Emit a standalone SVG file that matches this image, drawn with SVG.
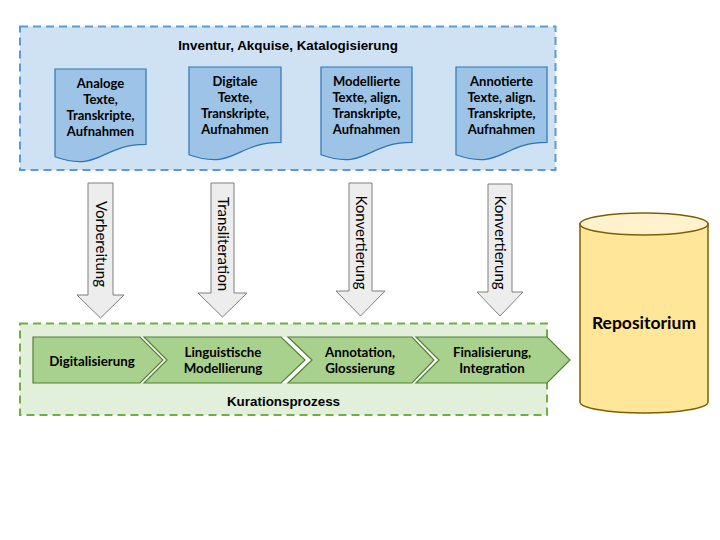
<svg xmlns="http://www.w3.org/2000/svg" width="720" height="540" viewBox="0 0 720 540">
<style>
.doc{fill:#9DC3E6;stroke:#2E75B6;stroke-width:1.2}
.dt{font-family:Lato,"Open Sans",sans-serif;font-weight:bold;font-size:13px;fill:#000;text-anchor:middle}
.arr{fill:#EDEDED;stroke:#7F7F7F;stroke-width:1}
.at{font-family:Lato,"Open Sans",sans-serif;font-size:15px;fill:#000;text-anchor:middle}
.chev{fill:#A9D18E;stroke:#538135;stroke-width:1.2}
.gap{fill:#FFFFFF;stroke:none}
.ct{font-family:Lato,"Open Sans",sans-serif;font-weight:bold;font-size:13.3px;fill:#000;text-anchor:middle}
.title{font-family:"Liberation Sans",Arial,sans-serif;font-weight:bold;font-size:13.4px;fill:#000;text-anchor:middle}
</style>
<rect width="720" height="540" fill="#FFFFFF"/>
<g id="inventur">
<rect x="20" y="26.5" width="535.5" height="143.5" fill="#CFE2F3" stroke="#5B9BD5" stroke-width="2" stroke-dasharray="8,5"/>
<text class="title" x="288" y="50">Inventur, Akquise, Katalogisierung</text>
</g>
<g id="doc1">
<path class="doc" d="M55,69 H146 V144.4 C100.5,144.4 100.5,172.8 55,156.8 Z"/>
<text class="dt" x="100.5" y="87.5">Analoge</text>
<text class="dt" x="100.5" y="104">Texte,</text>
<text class="dt" x="100.5" y="120">Transkripte,</text>
<text class="dt" x="100.5" y="136">Aufnahmen</text>
</g>
<g id="doc2">
<path class="doc" d="M189,67 H281 V142.4 C235,142.4 235,170.8 189,154.8 Z"/>
<text class="dt" x="235" y="86">Digitale</text>
<text class="dt" x="235" y="102">Texte,</text>
<text class="dt" x="235" y="118">Transkripte,</text>
<text class="dt" x="235" y="133.5">Aufnahmen</text>
</g>
<g id="doc3">
<path class="doc" d="M321,67 H412 V142.4 C366.5,142.4 366.5,170.8 321,154.8 Z"/>
<text class="dt" x="366.5" y="86">Modellierte</text>
<text class="dt" x="366.5" y="102">Texte, align.</text>
<text class="dt" x="366.5" y="118">Transkripte,</text>
<text class="dt" x="366.5" y="133.5">Aufnahmen</text>
</g>
<g id="doc4">
<path class="doc" d="M456,67 H547 V142.4 C501.5,142.4 501.5,170.8 456,154.8 Z"/>
<text class="dt" x="501.5" y="86">Annotierte</text>
<text class="dt" x="501.5" y="102">Texte, align.</text>
<text class="dt" x="501.5" y="118">Transkripte,</text>
<text class="dt" x="501.5" y="133.5">Aufnahmen</text>
</g>
<g id="connectors">
<g id="arrow1">
<path class="arr" d="M88,183 H113 V295 H124 L100.5,318 L77,295 H88 Z"/>
<text class="at" transform="translate(100.5,244) rotate(90)" y="5">Vorbereitung</text>
</g>
<g id="arrow2">
<path class="arr" d="M211,183 H234 V293 H247 L222.5,317 L198,293 H211 Z"/>
<text class="at" transform="translate(222.5,244) rotate(90)" y="5">Transliteration</text>
</g>
<g id="arrow3">
<path class="arr" d="M349,183 H372 V291 H385 L360.5,316 L336,291 H349 Z"/>
<text class="at" transform="translate(360.5,242.5) rotate(90)" y="5">Konvertierung</text>
</g>
<g id="arrow4">
<path class="arr" d="M488,184 H512 V292 H523 L500,316 L477,292 H488 Z"/>
<text class="at" transform="translate(500,242.5) rotate(90)" y="5">Konvertierung</text>
</g>
</g>
<g id="kuration">
<rect x="20" y="323.5" width="527" height="91.5" fill="#E2EFDA" stroke="#70AD47" stroke-width="2" stroke-dasharray="8,5"/>
<text class="title" x="283.5" y="405.5">Kurationsprozess</text>
</g>
<g id="gaps">
<polygon class="gap" points="140,337 144,337 167,360 144,383 140,383 163,360"/>
<polygon class="gap" points="281,337 288,337 312,360 288,383 281,383 305,360"/>
<polygon class="gap" points="412,337 416,337 439,360 416,383 412,383 434,360"/>
</g>
<g id="step1">
<polygon class="chev" points="33,337 140,337 163,360 140,383 33,383"/>
<text class="ct" x="92" y="365.5">Digitalisierung</text>
</g>
<g id="step2">
<polygon class="chev" points="144,337 281,337 305,360 281,383 144,383 167,360"/>
<text class="ct" x="223" y="357">Linguistische</text>
<text class="ct" x="223" y="373">Modellierung</text>
</g>
<g id="step3">
<polygon class="chev" points="288,337 412,337 434,360 412,383 288,383 312,360"/>
<text class="ct" x="360" y="357">Annotation,</text>
<text class="ct" x="360" y="373">Glossierung</text>
</g>
<g id="step4">
<polygon class="chev" points="416,337 547,337 570,360 547,383 416,383 439,360"/>
<text class="ct" x="492" y="357">Finalisierung,</text>
<text class="ct" x="492" y="373">Integration</text>
</g>
<g id="repositorium">
<path d="M580,224 V402 A64,11 0 0 0 708,402 V224 Z" fill="#FFE699" stroke="#7F6000" stroke-width="1.5"/>
<ellipse cx="644" cy="224" rx="64" ry="11" fill="#FFF2CC" stroke="#7F6000" stroke-width="1.5"/>
<text x="644" y="329" font-family="Lato,'Open Sans',sans-serif" font-weight="bold" font-size="17.5px" text-anchor="middle" fill="#000">Repositorium</text>
</g>
</svg>
